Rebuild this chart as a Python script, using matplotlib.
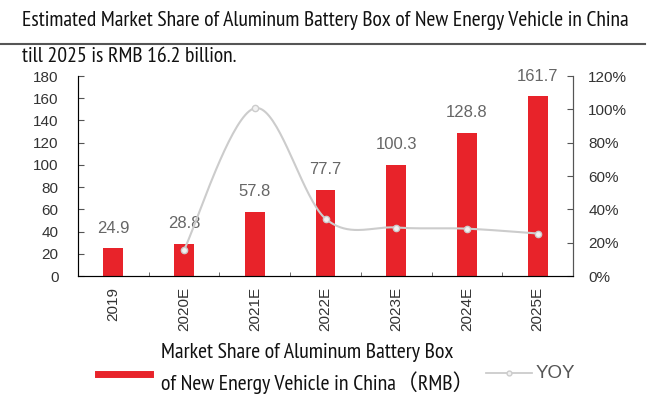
import numpy as np
import matplotlib.pyplot as plt
from matplotlib.lines import Line2D

years = ["2019", "2020E", "2021E", "2022E", "2023E", "2024E", "2025E"]
market = [24.9, 28.8, 57.8, 77.7, 100.3, 128.8, 161.7]
yoy_years = ["2020E", "2021E", "2022E", "2023E", "2024E", "2025E"]
yoy = [15.7, 100.7, 34.4, 29.1, 28.4, 25.5]

RED = "#e8232a"
GRAY_TXT = "#666666"
LINE_GRAY = "#cccccc"
NARROW = ["PT Sans Narrow", "Roboto Condensed", "Liberation Sans", "Noto Sans CJK SC", "DejaVu Sans"]
ARIAL = ["Liberation Sans", "DejaVu Sans"]


# Bezier smoothing through the points, like a spreadsheet "smoothed line"
def smooth(xs, ys, n=40):
    p = np.column_stack([xs, ys]).astype(float)
    p = np.vstack([p[0], p, p[-1]])
    out = []
    for i in range(1, len(p) - 2):
        p0, p1, p2, p3 = p[i - 1], p[i], p[i + 1], p[i + 2]
        c1 = p1 + (p2 - p0) / 6
        c2 = p2 - (p3 - p1) / 6
        t = np.linspace(0, 1, n)[:, None]
        seg = ((1 - t) ** 3) * p1 + 3 * ((1 - t) ** 2) * t * c1 + 3 * (1 - t) * t ** 2 * c2 + t ** 3 * p2
        out.append(seg)
    out = np.vstack(out)
    return out[:, 0], out[:, 1]


# shrink/grow a text so that it spans the wanted width in pixels
def fit_width(fig, txt, width_px):
    r = fig.canvas.get_renderer()
    w = txt.get_window_extent(r).width
    txt.set_fontsize(txt.get_fontsize() * width_px / w)
    return txt.get_fontsize()


fig = plt.figure(figsize=(6.63, 3.97), dpi=100)
ax = fig.add_axes([78 / 663, 1 - 276 / 397, 495 / 663, 200 / 397])
x = np.arange(len(years))

ax.bar(x, market, width=0.28, color=RED, zorder=2)
for xi, v in zip(x, market):
    ax.annotate(f"{v}", (xi, v), xytext=(0, 9), textcoords="offset points",
                ha="center", va="bottom", fontsize=12, color=GRAY_TXT, family=ARIAL)

ax.set_xlim(-0.5, 6.5)
ax.set_ylim(0, 180)
ax.set_yticks(range(0, 181, 20))
ax.set_xticks(x)
ax.set_xticklabels(years, rotation=90, fontsize=11, family=ARIAL, color="#333333")
ax.set_xticks(np.arange(0.5, 6, 1), minor=True)
ax.tick_params(axis="x", which="major", length=0, pad=8)
ax.tick_params(axis="x", which="minor", direction="in", length=3, color="#555555")
ax.tick_params(axis="y", direction="in", length=4, labelsize=11, colors="#555555",
               labelcolor="#333333", pad=14)
for lab in ax.get_yticklabels():
    lab.set_family(ARIAL)
ax.spines["top"].set_visible(False)
for s in ["left", "bottom", "right"]:
    ax.spines[s].set_color("#555555")

ax2 = ax.twinx()
ax2.set_ylim(0, 120)
ax2.set_yticks(range(0, 121, 20))
ax2.set_yticklabels([f"{v}%" for v in range(0, 121, 20)])
ax2.tick_params(axis="y", direction="in", length=4, labelsize=11, colors="#555555",
                labelcolor="#333333", pad=11)
for lab in ax2.get_yticklabels():
    lab.set_family(ARIAL)
ax2.spines["top"].set_visible(False)
ax2.spines["right"].set_color("#555555")

yx = [years.index(y) for y in yoy_years]
sx, sy = smooth(yx, yoy)
ax2.plot(sx, sy, color=LINE_GRAY, lw=1.5, zorder=3)
ax2.plot(yx, yoy, ls="none", marker="o", ms=4.5, mfc="#f2f2f2", mec=LINE_GRAY, mew=1, zorder=4)

# header
t1 = fig.text(22 / 663, 1 - 21 / 397, "Estimated Market Share of Aluminum Battery Box of New Energy Vehicle in China",
              fontsize=15, family=NARROW, va="center", ha="left", color="#111111")
size = fit_width(fig, t1, 614)
fig.add_artist(Line2D([0, 645 / 663], [1 - 44 / 397] * 2, color="#555555", lw=1.5))
fig.text(22 / 663, 1 - 56 / 397, "till 2025 is RMB 16.2 billion.",
         fontsize=size, family=NARROW, va="center", ha="left", color="#111111")

# legend
fig.add_artist(Line2D([98 / 663, 150 / 663], [1 - 374 / 397] * 2, color=RED, lw=5))
l1 = fig.text(161 / 663, 1 - 352 / 397, "Market Share of Aluminum Battery Box",
              fontsize=14, family=NARROW, va="center", ha="left", color="#111111")
lsize = fit_width(fig, l1, 295)
fig.text(161 / 663, 1 - 383 / 397, "of New Energy Vehicle in China\uff08RMB\uff09",
         fontsize=lsize, family=NARROW, va="center", ha="left", color="#111111")
fig.add_artist(Line2D([486 / 663, 532 / 663], [1 - 373 / 397] * 2, color=LINE_GRAY, lw=1.3))
fig.add_artist(Line2D([509 / 663], [1 - 373 / 397], ls="none", marker="o", ms=3.5,
                      mfc="#f2f2f2", mec=LINE_GRAY, mew=1))
fig.text(536 / 663, 1 - 373 / 397, "YOY", fontsize=13.5, family=ARIAL, va="center", ha="left", color="#555555")

fig.savefig("out.png", dpi=100)
